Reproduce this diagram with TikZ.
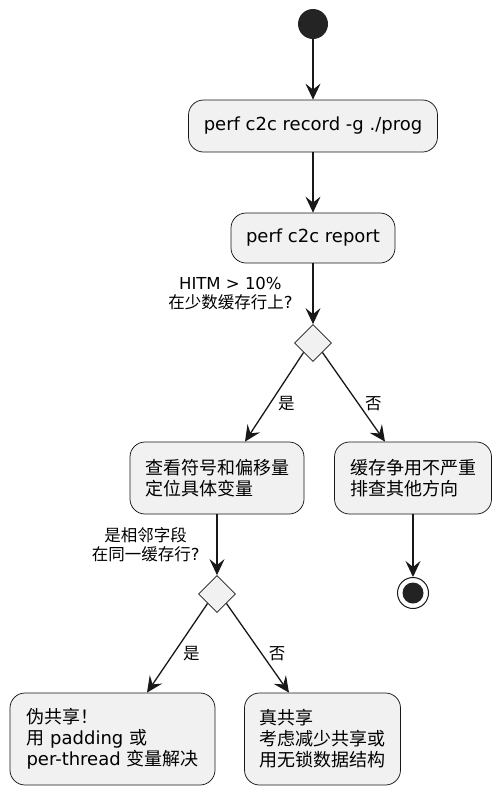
\documentclass[tikz,border=0pt]{standalone}
\usepackage{fontspec}
\setmainfont{DejaVu Sans}
\newfontfamily\cjk{Noto Sans CJK SC}
\usepackage{tikz}
\usetikzlibrary{arrows.meta,shapes.geometric}
\definecolor{boxfill}{HTML}{F1F1F1}
\definecolor{boxline}{HTML}{181818}

\begin{document}
\begin{tikzpicture}[x=1pt, y=1pt,
block/.style = {draw=boxline, line width=0.75pt, fill=boxfill, rectangle, rounded corners=15pt, align=left, inner xsep=15pt, font=\fontsize{18}{21}\selectfont},
decision/.style = {draw=boxline, line width=0.75pt, fill=boxfill, diamond, minimum width=37pt, minimum height=37pt, inner sep=0pt},
startdot/.style = {circle, fill=boxline!95, minimum size=30pt, inner sep=0pt},
enddot/.style = {circle, draw=boxline, line width=1pt, fill=white, minimum size=31pt, inner sep=0pt},
lbl/.style = {font=\fontsize{16.5}{19}\selectfont, align=center},
conn/.style = {->, line width=1.3pt, draw=boxline},
node distance = 2cm,
>={Stealth[length=16pt,width=15pt,inset=6pt]}
]

    \useasboundingbox (0,0) rectangle (498,-793);

    \node [startdot] (init) at (313,-24) {};
    \node [block, below of=init, node distance=102pt, minimum width=249pt, minimum height=52pt] (record) {perf c2c record -g ./prog};
    \node [block, below of=record, node distance=112pt, minimum width=164pt, minimum height=50pt] (report) {perf c2c report};
    \node [decision, below of=report, node distance=105pt] (hitm) {};

    \node [block, minimum width=174pt, minimum height=72pt] (locate) at (217,-478) {{\cjk 查看符号和偏移量}\\{\cjk 定位具体变量}};
    \node [block, minimum width=157pt, minimum height=72pt] (other) at (413,-478) {{\cjk 缓存争用不严重}\\{\cjk 排查其他方向}};
    \node [enddot, below of=other, node distance=115pt] (done) {};
    \fill [boxline!95] (done.center) circle (10.5pt);

    \node [decision, below of=locate, node distance=116pt] (adj) {};
    \node [block, minimum width=205pt, minimum height=92pt] (falseshare) at (112.5,-739) {{\cjk 伪共享！}\\{\cjk 用} padding {\cjk 或}\\per-thread {\cjk 变量解决}};
    \node [block, minimum width=155pt, minimum height=92pt] (trueshare) at (322.5,-739) {{\cjk 真共享}\\{\cjk 考虑减少共享或}\\{\cjk 用无锁数据结构}};

    \draw [conn] (init) -- (record);
    \draw [conn] (record) -- (report);
    \draw [conn] (report) -- node[lbl, left=16.5pt]{HITM > 10\%\\{\cjk 在少数缓存行上}?} (hitm);

    \draw [conn] (hitm.south west) -- node[lbl, right=4pt, pos=0.57]{\cjk 是} ([xshift=28pt]locate.north);
    \draw [conn] (hitm.south east) -- node[lbl, right=3pt, pos=0.57]{\cjk 否} ([xshift=-28pt]other.north);
    \draw [conn] (other) -- (done);

    \draw [conn] (locate) -- node[lbl, left=13.5pt]{{\cjk 是相邻字段}\\{\cjk 在同一缓存行}?} (adj);
    \draw [conn] (adj.south west) -- node[lbl, right=5.5pt, pos=0.56]{\cjk 是} ([xshift=34.5pt]falseshare.north);
    \draw [conn] (adj.south east) -- node[lbl, right=3.5pt, pos=0.56]{\cjk 否} ([xshift=-33.5pt]trueshare.north);

\end{tikzpicture}
\end{document}
